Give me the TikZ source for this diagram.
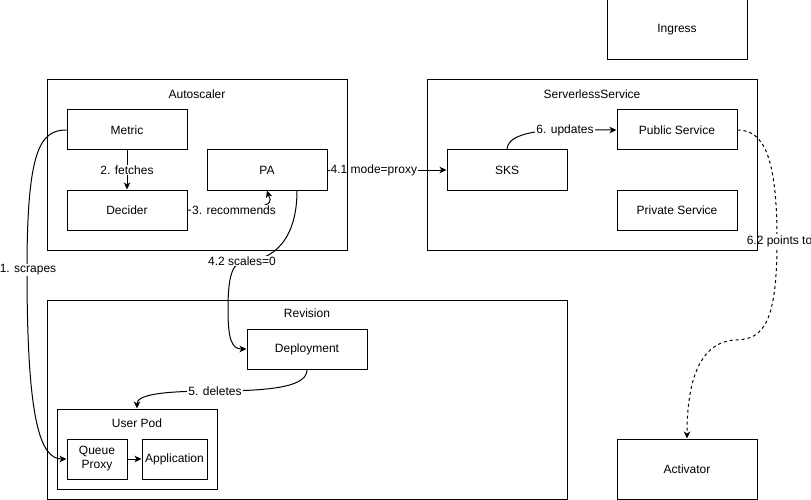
\documentclass[tikz,border=0pt]{standalone}
\usepackage{fontspec}
\setmainfont{Liberation Sans}
\usetikzlibrary{arrows.meta}
\begin{document}
\begin{tikzpicture}[x=1pt,y=-1pt,
  every node/.style={font=\fontsize{12}{14}\selectfont, inner sep=0pt, align=center},
  box/.style={draw, line width=1pt, minimum width=120pt, minimum height=40pt},
  cont/.style={draw, line width=1pt},
  conn/.style={line width=1pt, -{Stealth[length=7pt,width=6.5pt,inset=2pt]}},
  dashconn/.style={conn, dash pattern=on 3pt off 3pt},
  lbl/.style={fill=white, inner sep=1pt},
]
\useasboundingbox (0,0) rectangle (811,500);

% lower containers
\node[cont, minimum width=520pt, minimum height=199pt] (revision) at (307,399.5) {};
\node (revtitle) at (307,313) {Revision};
\node[cont, minimum width=160pt, minimum height=80pt] (userpod) at (137,449) {};
\node (podtitle) at (137,423) {User Pod};

% nodes
\node[box, minimum width=140pt, minimum height=60pt] (ingress) at (677,30) {Ingress};
\node[box] (metric) at (127,130) {Metric};
\node[box] (decider) at (127,210) {Decider};
\node[box] (pa) at (267,170) {PA};
\node[box] (sks) at (507,170) {SKS};
\node[box] (pub) at (677,130) {Public Service};
\node[box] (priv) at (677,210) {Private Service};
\node[box] (deploy) at (307,349) {Deployment};
\node[box, minimum width=60pt] (qp) at (97,459) {Queue\\Proxy};
\node[box, minimum width=65pt] (app) at (174.5,459) {Application};
\node[box, minimum width=140pt, minimum height=60pt] (act) at (687,469) {Activator};

% connectors
\draw[conn] (metric.west) .. controls (40,130) and (27,150) .. (27,270)
  .. controls (27,420) and (40,459) .. (qp.west);
\node[lbl] (l1) at (28,270) {1. scrapes};

\draw[conn] (metric.south) -- node[lbl] (l2) {2. fetches} (decider.north);

\draw[conn] (decider.east) .. controls (285,212) and (270,200) .. (pa.south);
\node[lbl] (l3) at (234,210) {3. recommends};

\draw[conn] (pa.east) -- node[lbl, pos=0.39] (l41) {4.1 mode=proxy} (sks.west);

\draw[conn] ([xshift=30pt]pa.south) .. controls (297,238) and (275,261) .. (242,262)
  .. controls (230,264) and (228,285) .. (228,310)
  .. controls (228,340) and (232,349) .. (deploy.west);
\node[lbl] (l42) at (242,261) {4.2 scales=0};

\draw[conn] (deploy.south) .. controls (307,385) and (280,391) .. (215,391)
  .. controls (160,391) and (137,395) .. (userpod.north);
\node[lbl] (l5) at (215,391) {5. deletes};

\draw[conn] (sks.north) .. controls (507,138) and (525,130) .. (565,130) -- (pub.west);
\node[lbl] (l6) at (565,130) {6. updates};

\draw[dashconn] (pub.east) .. controls (765,130) and (777,160) .. (777,240)
  .. controls (777,320) and (765,340) .. (735,340)
  .. controls (700,342) and (687,380) .. (act.north);
\node[lbl] (l62) at (779.5,241) {6.2 points to};

\draw[conn] (qp.east) -- (app.west);

% upper containers (drawn on top of labels)
\node[cont, minimum width=300pt, minimum height=170pt] (autoscaler) at (197,165) {};
\node (astitle) at (197,94) {Autoscaler};
\node[cont, minimum width=330pt, minimum height=170pt] (sls) at (592,165) {};
\node (slstitle) at (592,94) {ServerlessService};
\end{tikzpicture}
\end{document}
